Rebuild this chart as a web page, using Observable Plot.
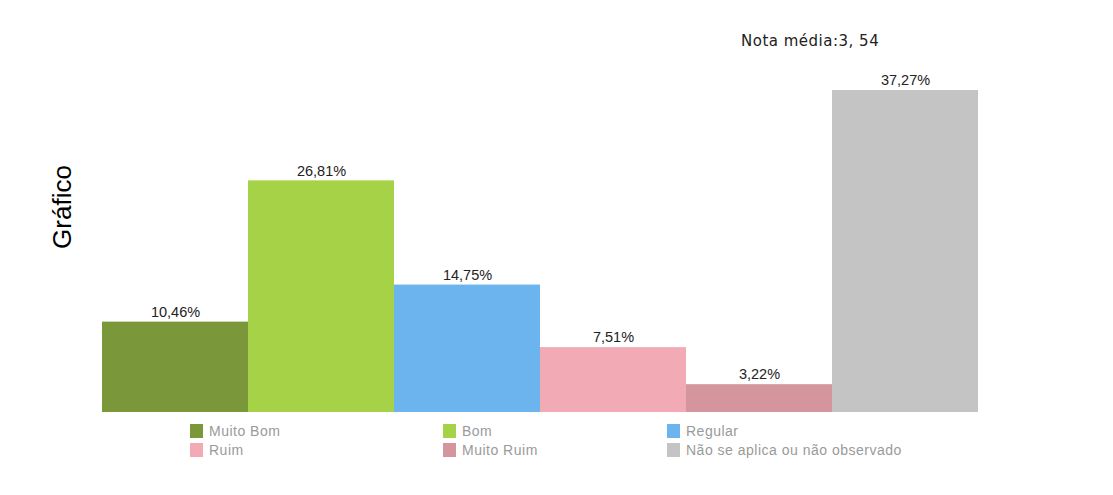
<!DOCTYPE html>
<html>
<head>
<meta charset="utf-8">
<script src="https://cdn.jsdelivr.net/npm/d3@7"></script>
<script src="https://cdn.jsdelivr.net/npm/@observablehq/plot@0.6"></script>
<style>
  html, body { margin: 0; padding: 0; background: #ffffff; }
  #wrap { position: relative; width: 1113px; height: 495px; overflow: hidden; }
  #chart { position: absolute; left: 0; top: 0; }
  .title { position: absolute; left: 62px; top: 207px; transform: translate(-50%, -50%) rotate(-90deg);
           font-family: "Liberation Sans", Arial, sans-serif; font-size: 26px; color: #000; white-space: nowrap; }
  .nota { position: absolute; left: 741px; top: 32px; font-family: "DejaVu Sans", Verdana, sans-serif;
          font-size: 15px; letter-spacing: 0.5px; color: #222; white-space: nowrap; }
  .legend { position: absolute; font-family: "Liberation Sans", Arial, sans-serif; font-size: 14px;
            letter-spacing: 0.5px; color: #9a9a9a; }
  .item { position: absolute; display: flex; align-items: center; white-space: nowrap; }
  .sw { width: 13px; height: 14px; margin-right: 6px; }
</style>
</head>
<body>
<div id="wrap">
  <div id="chart"></div>
  <div class="title">Gráfico</div>
  <div class="nota">Nota média:3, 54</div>
  <div class="legend" id="legend"></div>
</div>
<script>
const categories = ["Muito Bom", "Bom", "Regular", "Ruim", "Muito Ruim", "Não se aplica ou não observado"];
const values = [10.46, 26.81, 14.75, 7.51, 3.22, 37.27];
const labels = ["10,46%", "26,81%", "14,75%", "7,51%", "3,22%", "37,27%"];
const colors = ["#7a973a", "#a5d247", "#6cb4ee", "#f2aab4", "#d4959d", "#c4c4c4"];

const data = categories.map((c, i) => ({category: c, value: values[i], label: labels[i]}));

const chart = Plot.plot({
  width: 1113,
  height: 495,
  marginLeft: 102,
  marginRight: 135,
  marginTop: 90,
  marginBottom: 83,
  style: {background: "transparent"},
  x: {domain: categories, padding: 0, axis: null},
  y: {domain: [0, 37.27], axis: null},
  color: {domain: categories, range: colors},
  marks: [
    Plot.barY(data, {x: "category", y: "value", fill: "category"}),
    Plot.text(data, {x: "category", y: "value", text: "label", dy: -10,
      fontFamily: "Liberation Sans, Arial, sans-serif", fontSize: 14.5, fill: "#222"})
  ]
});
document.getElementById("chart").appendChild(chart);

// legend
const legend = document.getElementById("legend");
const colX = [190, 443, 667];
const rowY = [423, 442];
categories.forEach((c, i) => {
  const item = document.createElement("div");
  item.className = "item";
  item.style.left = colX[i % 3] + "px";
  item.style.top = rowY[Math.floor(i / 3)] + "px";
  const sw = document.createElement("div");
  sw.className = "sw";
  sw.style.background = colors[i];
  const t = document.createElement("span");
  t.textContent = c;
  item.appendChild(sw);
  item.appendChild(t);
  legend.appendChild(item);
});
</script>
</body>
</html>
